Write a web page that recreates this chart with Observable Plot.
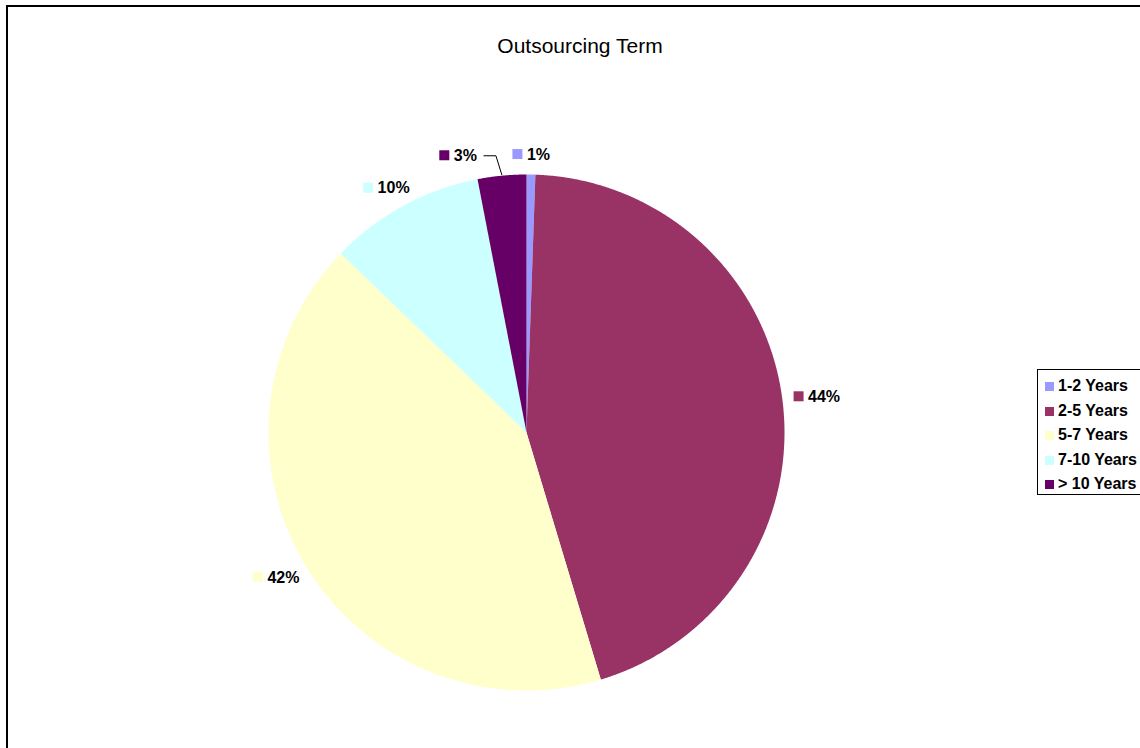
<!DOCTYPE html>
<html>
<head>
<meta charset="utf-8">
<script src="https://cdn.jsdelivr.net/npm/d3@7"></script>
<script src="https://cdn.jsdelivr.net/npm/@observablehq/plot@0.6"></script>
<style>
  html, body { margin: 0; padding: 0; background: #fff; overflow: hidden; }
  body { width: 1140px; height: 748px; position: relative; font-family: Arial, "Liberation Sans", sans-serif; }
  #frame { position: absolute; left: 6px; top: 5px; width: 1200px; height: 800px;
           border-left: 2px solid #000; border-top: 2px solid #000; box-sizing: border-box; }
  #chart { position: absolute; left: 0; top: 0; }
  #title { position: absolute; left: 0; width: 1160px; top: 34px; text-align: center;
           font-size: 21px; color: #000; }
  #legend { position: absolute; left: 1037px; top: 369px; width: 130px; height: 126px;
            border: 1px solid #000; box-sizing: border-box; padding: 4px 0 0 7px; background: #fff; }
  .item { height: 24.5px; line-height: 24.5px; font-size: 16px; font-weight: bold; white-space: nowrap; }
  .sw { display: inline-block; width: 9px; height: 9px; margin-right: 4px; vertical-align: 0px; }
</style>
</head>
<body>
<div id="chart"></div>
<div id="frame"></div>
<div id="title">Outsourcing Term</div>
<div id="legend"></div>
<script>
// ---- data ----
const categories = ["1-2 Years", "2-5 Years", "5-7 Years", "7-10 Years", "> 10 Years"];
const shares = [0.55, 44.8, 41.85, 9.76, 3.04];
const shareLabels = ["1%", "44%", "42%", "10%", "3%"];
const colors = ["#9999FF", "#993366", "#FFFFCC", "#CCFFFF", "#660066"];

// ---- layout ----
const W = 1140, H = 748;
const cx = 526, cy = 432, R = 258;
const labelGap = 12;

const rows = categories.map((c, i) => ({cat: c, v: shares[i], label: shareLabels[i]}));
const arcs = d3.pie().sort(null).value(d => d.v)(rows);

// slice polygons
const slicePts = [];
for (const a of arcs) {
  slicePts.push({cat: a.data.cat, x: cx, y: cy});
  const n = Math.max(2, Math.ceil((a.endAngle - a.startAngle) / 0.004));
  for (let k = 0; k <= n; k++) {
    const t = a.startAngle + (a.endAngle - a.startAngle) * k / n;
    slicePts.push({cat: a.data.cat, x: cx + R * Math.sin(t), y: cy - R * Math.cos(t)});
  }
  slicePts.push({cat: a.data.cat, x: cx, y: cy});
}

// labels: box placed just outside the rim, pushed outward along the mid angle
const ctx = document.createElement("canvas").getContext("2d");
ctx.font = "bold 16px Arial, 'Liberation Sans'";
const labels = arcs.map(a => {
  const m = (a.startAngle + a.endAngle) / 2;
  const s = Math.sin(m), c = Math.cos(m);
  const tw = ctx.measureText(a.data.label).width;
  const w = 14 + tw, h = 16;
  const lx = cx + (R + labelGap) * s + (w / 2) * s;
  const ly = cy - (R + labelGap) * c - (h / 2) * c;
  return {cat: a.data.cat, label: a.data.label, mid: m, w, h, left: lx - w / 2, cy: ly, leader: false};
});
// simple collision resolution: push the left-hand label further left
for (let i = 0; i < labels.length; i++) {
  for (let j = 0; j < labels.length; j++) {
    if (i === j) continue;
    const A = labels[i], B = labels[j];
    const overlapX = A.left < B.left + B.w && B.left < A.left + A.w;
    const overlapY = Math.abs(A.cy - B.cy) < (A.h + B.h) / 2;
    if (overlapX && overlapY && A.left + A.w / 2 < B.left + B.w / 2) {
      A.left = B.left - 36 - A.w;
      A.leader = true;
    }
  }
}
const leaderPts = [];
for (const L of labels.filter(l => l.leader)) {
  const right = L.left + L.w;
  leaderPts.push({id: L.cat, x: right + 7, y: L.cy});
  leaderPts.push({id: L.cat, x: right + 19, y: L.cy});
  leaderPts.push({id: L.cat, x: cx + (R + 1) * Math.sin(L.mid), y: cy - (R + 1) * Math.cos(L.mid)});
}

const plot = Plot.plot({
  width: W, height: H,
  margin: 0,
  x: {domain: [0, W], range: [0, W], axis: null},
  y: {domain: [0, H], range: [0, H], axis: null},
  color: {domain: categories, range: colors},
  style: {background: "#fff"},
  marks: [
    Plot.line(slicePts, {x: "x", y: "y", z: "cat", fill: "cat", stroke: "none", curve: "linear"}),
    Plot.line(leaderPts, {x: "x", y: "y", z: "id", stroke: "#000", strokeWidth: 1}),
    Plot.rect(labels, {x1: d => d.left, x2: d => d.left + 10, y1: d => d.cy - 5, y2: d => d.cy + 5, fill: "cat"}),
    Plot.text(labels, {x: d => d.left + 14, y: d => d.cy, text: "label", textAnchor: "start",
      lineAnchor: "middle", fontWeight: "bold", fontSize: 16, fill: "#000",
      fontFamily: "Arial, 'Liberation Sans', sans-serif"})
  ]
});
document.getElementById("chart").appendChild(plot);

// legend
const legend = document.getElementById("legend");
categories.forEach((c, i) => {
  const it = document.createElement("div");
  it.className = "item";
  const sw = document.createElement("span");
  sw.className = "sw";
  sw.style.background = colors[i];
  it.appendChild(sw);
  it.appendChild(document.createTextNode(c));
  legend.appendChild(it);
});
</script>
</body>
</html>
